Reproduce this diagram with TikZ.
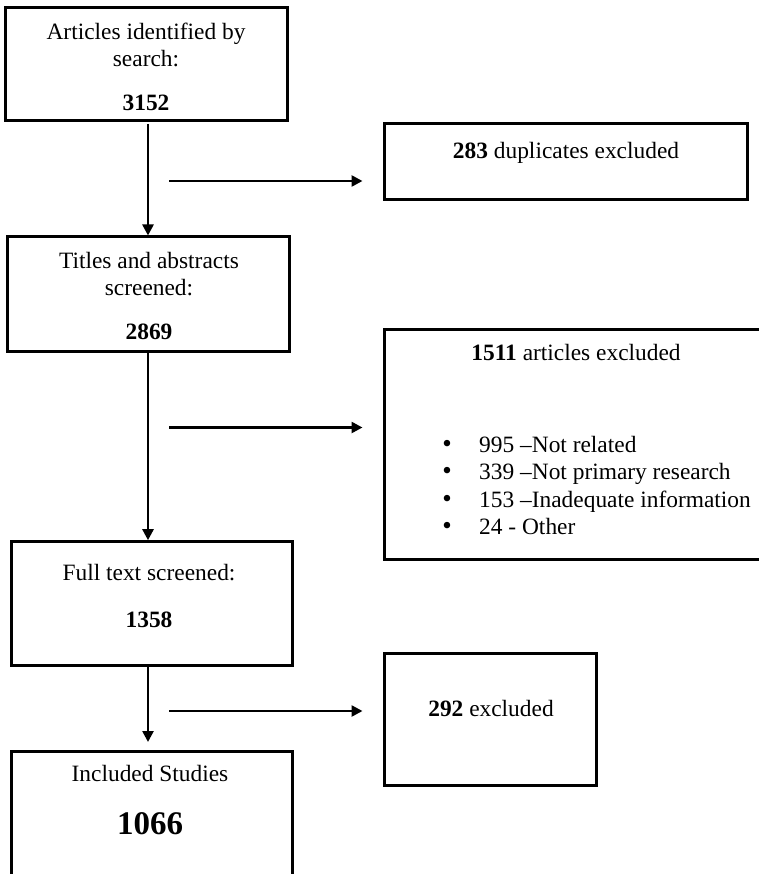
\documentclass[tikz,border=0pt]{standalone}
\usepackage{fontspec}
\setmainfont{Liberation Serif}
\usetikzlibrary{arrows.meta}
\begin{document}
\begin{tikzpicture}[x=1pt,y=-1pt,
  box/.style={draw, line width=3pt, rectangle, inner sep=0pt},
  arr/.style={line width=2.5pt, -{Triangle[length=11pt,width=11pt]}},
  txt/.style={inner sep=0pt, anchor=base, font=\fontsize{23.4}{28}\selectfont},
  txtl/.style={inner sep=0pt, anchor=base west, font=\fontsize{23.4}{28}\selectfont},
  big/.style={inner sep=0pt, anchor=base, font=\fontsize{33}{40}\selectfont\bfseries}]
\useasboundingbox (0,0) rectangle (759,874);
\clip (0,0) rectangle (759,874);
% boxes
\node[box, minimum width=281.8pt, minimum height=113pt] (b1) at (146.6,64) {};
\node[box, minimum width=363pt, minimum height=76.5pt] (b2) at (566,161.75) {};
\node[box, minimum width=282pt, minimum height=114pt] (b3) at (148,294) {};
\node[box, minimum width=405pt, minimum height=229.3pt] (b4) at (587,444.6) {};
\node[box, minimum width=281pt, minimum height=124pt] (b5) at (151.5,603.7) {};
\node[box, minimum width=211.7pt, minimum height=131.7pt] (b6) at (490.8,719.2) {};
\node[box, minimum width=281pt, minimum height=149pt] (b7) at (151.5,825.5) {};
% texts
\node[txt] (t1a) at (146,39.5) {Articles identified by};
\node[txt] (t1b) at (146,67) {search:};
\node[txt] (t1c) at (146,111) {\textbf{3152}};
\node[txt] (t2) at (566,159) {\textbf{283} duplicates excluded};
\node[txt] (t3a) at (149,269) {Titles and abstracts};
\node[txt] (t3b) at (149,295) {screened:};
\node[txt] (t3c) at (149,339) {\textbf{2869}};
\node[txt] (t4) at (576,360) {\textbf{1511} articles excluded};
\node[txt, font=\fontsize{27}{28}\selectfont] (d1) at (447,452) {•};
\node[txt, font=\fontsize{27}{28}\selectfont] (d2) at (447,479.5) {•};
\node[txt, font=\fontsize{27}{28}\selectfont] (d3) at (447,507) {•};
\node[txt, font=\fontsize{27}{28}\selectfont] (d4) at (447,534) {•};
\node[txtl] (l1) at (479,452) {995 –Not related};
\node[txtl] (l2) at (479,479.5) {339 –Not primary research};
\node[txtl] (l3) at (479,507) {153 –Inadequate information};
\node[txtl] (l4) at (479,534) {24 - Other};
\node[txt] (t5a) at (149,580) {Full text screened:};
\node[txt] (t5b) at (149,627) {\textbf{1358}};
\node[txt] (t6) at (491,716) {\textbf{292} excluded};
\node[txt] (t7a) at (150,781) {Included Studies};
\node[big] (t7b) at (150,834.5) {1066};
% vertical arrows
\draw[arr, shorten <=2pt] (b3.north |- b1.south) -- (b3.north);
\draw[arr] (b3.south) -- (b5.north -| b3.south);
\draw[arr, shorten >=7.5pt] (b5.south -| b3.south) -- (b7.north -| b3.south);
% horizontal arrows
\coordinate (h1s) at (169,181);
\coordinate (h1e) at (362.5,181);
\coordinate (h2s) at (169,427.5);
\coordinate (h2e) at (362.5,427.5);
\coordinate (h3s) at (169,711);
\coordinate (h3e) at (362.5,711);
\draw[arr] (h1s) -- (h1e);
\draw[arr] (h2s) -- (h2e);
\draw[arr] (h3s) -- (h3e);
\end{tikzpicture}
\end{document}
